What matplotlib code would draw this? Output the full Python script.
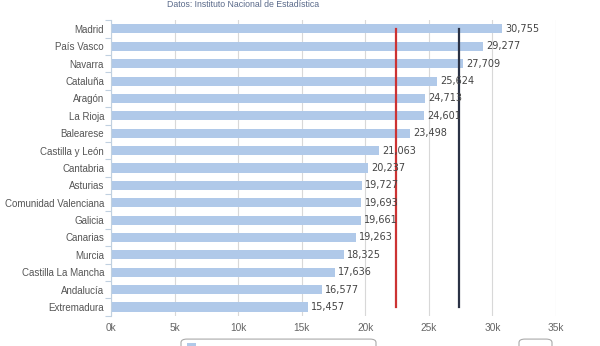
import matplotlib
matplotlib.use("Agg")
import matplotlib.pyplot as plt
from matplotlib.patches import FancyBboxPatch, Rectangle

regions = ["Madrid", "País Vasco", "Navarra", "Cataluña", "Aragón", "La Rioja",
           "Balearese", "Castilla y León", "Cantabria", "Asturias",
           "Comunidad Valenciana", "Galicia", "Canarias", "Murcia",
           "Castilla La Mancha", "Andalucía", "Extremadura"]
values = [30755, 29277, 27709, 25624, 24713, 24601, 23498, 21063, 20237,
          19727, 19693, 19661, 19263, 18325, 17636, 16577, 15457]
ref_red = 22400
ref_dark = 27350
xticks = [0, 5000, 10000, 15000, 20000, 25000, 30000, 35000]
xtick_labels = ["0k", "5k", "10k", "15k", "20k", "25k", "30k", "35k"]
subtitle = "Datos: Instituto Nacional de Estadística"

plt.rcParams['font.family'] = ['Liberation Sans', 'DejaVu Sans']

fig = plt.figure(figsize=(6, 3.46), dpi=100)
ax = fig.add_axes([0.185, 0.0876, 0.7417, 0.8538])

n = len(regions)
ypos = list(range(n))
ax.barh(ypos, values, height=0.52, color="#b0c9e9", zorder=2)
for y, v in zip(ypos, values):
    ax.text(v + 250, y, f"{v:,}", va="center", ha="left", fontsize=7,
            color="#444444", zorder=4, family="DejaVu Sans")

ax.plot([ref_red, ref_red], [0, n - 1], color="#cc3333", lw=1.6, zorder=3)
ax.plot([ref_dark, ref_dark], [0, n - 1], color="#2b3245", lw=1.6, zorder=3)

ax.set_xlim(0, 35000)
ax.set_ylim(n - 0.5, -0.5)
ax.set_xticks(xticks)
ax.set_xticklabels(xtick_labels, fontsize=7.3, color="#666666")
ax.set_yticks(ypos)
ax.set_yticklabels(regions, fontsize=7.0, color="#555555")
ax.set_yticks([i + 0.5 for i in range(-1, n)], minor=True)
ax.tick_params(axis="y", which="major", length=0, pad=5)
ax.tick_params(axis="y", which="minor", length=4, color="#c0d0e0", width=0.8)
ax.tick_params(axis="x", length=0, pad=5)
ax.grid(axis="x", color="#d8d8d8", lw=0.8, zorder=0)
ax.set_axisbelow(True)
for s in ["top", "right", "bottom"]:
    ax.spines[s].set_visible(False)
ax.spines["left"].set_color("#c0d0e0")
ax.spines["left"].set_linewidth(0.8)

fig.text(0.405, 0.988, subtitle, ha="center", va="center", fontsize=6.3,
         color="#5a6a8a")

# legend box (partially visible at bottom)
fig.patches.append(FancyBboxPatch((181 / 600, -0.05), 195 / 600, 0.07,
                                  boxstyle="round,pad=0,rounding_size=0.01",
                                  transform=fig.transFigure, fc="white",
                                  ec="#aaaaaa", lw=0.8))
fig.patches.append(Rectangle((187 / 600, -0.02), 9 / 600, 0.03,
                             transform=fig.transFigure, fc="#b0c9e9", ec="none"))
fig.patches.append(FancyBboxPatch((519 / 600, -0.05), 33 / 600, 0.07,
                                  boxstyle="round,pad=0,rounding_size=0.01",
                                  transform=fig.transFigure, fc="white",
                                  ec="#aaaaaa", lw=0.8))

fig.savefig("out.png", dpi=100)
